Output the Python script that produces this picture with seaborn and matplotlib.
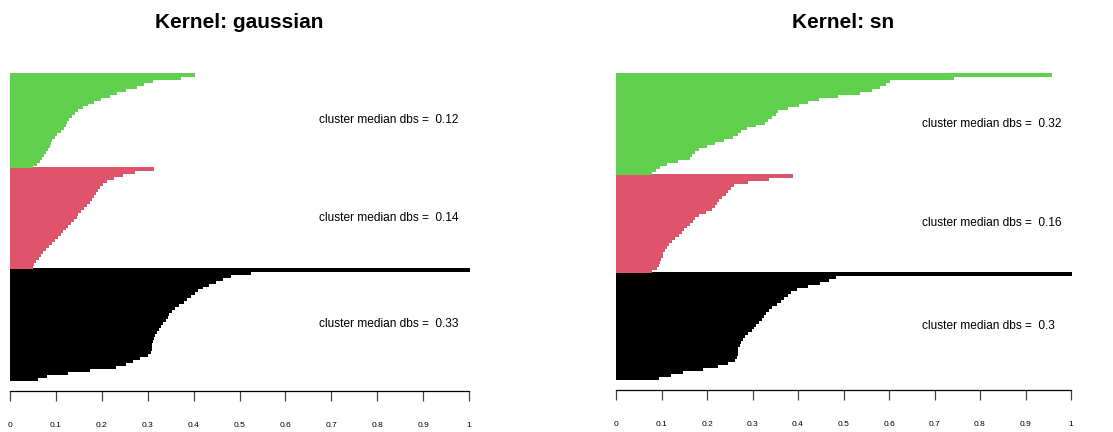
import numpy as np
import pandas as pd
import matplotlib
matplotlib.use("Agg")
import matplotlib.pyplot as plt
import seaborn as sns

sns.set_style("white")
plt.rcParams['font.family'] = ['Liberation Sans', 'DejaVu Sans']

# ---- data (values listed top -> bottom within each cluster) ----
titles = ["Kernel: gaussian", "Kernel: sn"]
cluster_names = ["green", "red", "black"]          # top -> bottom
cluster_colors = {"green": "#61D04F", "red": "#DF536B", "black": "#000000"}

gauss_green = [0.40, 0.37, 0.31, 0.29, 0.275, 0.25, 0.23, 0.215, 0.195, 0.18, 0.168,
               0.157, 0.147, 0.14, 0.132, 0.126, 0.122, 0.12, 0.115, 0.108, 0.10, 0.095,
               0.09, 0.087, 0.084, 0.08, 0.076, 0.072, 0.068, 0.064, 0.056, 0.048]
gauss_red = [0.312, 0.27, 0.243, 0.225, 0.21, 0.20, 0.194, 0.189, 0.185, 0.181, 0.177,
             0.172, 0.166, 0.16, 0.153, 0.147, 0.143, 0.138, 0.131, 0.124, 0.119, 0.114,
             0.108, 0.102, 0.095, 0.089, 0.082, 0.076, 0.069, 0.065, 0.06, 0.055, 0.051, 0.048]
gauss_black = [1.0, 0.523, 0.479, 0.462, 0.447, 0.432, 0.418, 0.407, 0.40, 0.392, 0.383,
               0.376, 0.367, 0.358, 0.351, 0.345, 0.341, 0.337, 0.332, 0.327, 0.322, 0.318,
               0.314, 0.311, 0.309, 0.308, 0.307, 0.307, 0.305, 0.298, 0.28, 0.265, 0.25,
               0.229, 0.172, 0.125, 0.078, 0.058]

sn_green = [0.957, 0.74, 0.60, 0.592, 0.578, 0.56, 0.535, 0.485, 0.445, 0.42, 0.40, 0.375,
            0.353, 0.35, 0.34, 0.331, 0.325, 0.305, 0.285, 0.272, 0.267, 0.255, 0.235,
            0.215, 0.198, 0.181, 0.171, 0.164, 0.16, 0.135, 0.11, 0.095, 0.085, 0.078]
sn_red = [0.386, 0.335, 0.287, 0.257, 0.25, 0.245, 0.239, 0.23, 0.225, 0.22, 0.215,
          0.208, 0.195, 0.18, 0.172, 0.166, 0.16, 0.154, 0.148, 0.143, 0.136, 0.128,
          0.12, 0.115, 0.11, 0.106, 0.102, 0.10, 0.097, 0.095, 0.092, 0.088, 0.076]
sn_black = [1.0, 0.482, 0.467, 0.447, 0.42, 0.395, 0.383, 0.375, 0.368, 0.361, 0.351,
            0.341, 0.335, 0.328, 0.324, 0.318, 0.312, 0.306, 0.301, 0.296, 0.289, 0.282,
            0.276, 0.273, 0.27, 0.267, 0.266, 0.265, 0.263, 0.26, 0.245, 0.222, 0.19,
            0.145, 0.118, 0.092]

gauss_medians = ["0.12", "0.14", "0.33"]
sn_medians = ["0.32", "0.16", "0.3"]

tick_values = [0, 0.1, 0.2, 0.3, 0.4, 0.5, 0.6, 0.7, 0.8, 0.9, 1]
tick_labels = ["0", "0.1", "0.2", "0.3", "0.4", "0.5", "0.6", "0.7", "0.8", "0.9", "1"]

panels = [
    (titles[0], [gauss_green, gauss_red, gauss_black], gauss_medians),
    (titles[1], [sn_green, sn_red, sn_black], sn_medians),
]

W, H = 1113, 432
fig = plt.figure(figsize=(W / 100, H / 100), dpi=100)

# pixel layout (left, right, top, bottom)
boxes = [(10, 469, 73, 380), (616, 1071, 73, 379)]

for (title, clusters, medians), (l, r, t, b) in zip(panels, boxes):
    ax = fig.add_axes([l / W, 1 - b / H, (r - l) / W, (b - t) / H])
    rows = []
    pos = 0
    centers = {}
    for name, vals in zip(reversed(cluster_names), reversed(clusters)):
        start = pos
        for v in reversed(vals):
            rows.append({"pos": pos, "dbs": v, "cluster": name})
            pos += 1
        centers[name] = (start + pos - 1) / 2.0
    df = pd.DataFrame(rows)
    sns.barplot(data=df, x="dbs", y="pos", hue="cluster", palette=cluster_colors,
                orient="h", native_scale=True, width=1, dodge=False, saturation=1,
                errorbar=None, legend=False, ax=ax)
    for p in ax.patches:
        p.set_edgecolor(p.get_facecolor())
        p.set_linewidth(0.6)
        p.set_antialiased(False)
        p.set_clip_on(False)
    ax.set_xlim(0, 1)
    ax.set_ylim(-0.5, pos - 0.5)
    for name, med in zip(cluster_names, medians):
        ax.text(0.673, centers[name], "cluster median dbs =  " + med,
                fontsize=8.6, ha="left", va="center", color="black")
    ax.set_ylabel("")
    ax.set_xlabel("")
    ax.set_yticks([])
    for s in ["left", "top", "right"]:
        ax.spines[s].set_visible(False)
    ax.spines["bottom"].set_position(("outward", 8))
    ax.spines["bottom"].set_color("black")
    ax.spines["bottom"].set_linewidth(0.9)
    ax.set_xticks(tick_values)
    ax.set_xticklabels(tick_labels)
    ax.tick_params(axis="x", bottom=True, direction="out", length=7.2, width=0.9,
                   color="#444444", labelsize=6, pad=15, labelcolor="black")
    fig.text(((l + r) / 2) / W, 1 - 23 / H, title, fontsize=15, fontweight="bold",
             ha="center", va="center", color="black")

fig.savefig("out.png", dpi=100)
